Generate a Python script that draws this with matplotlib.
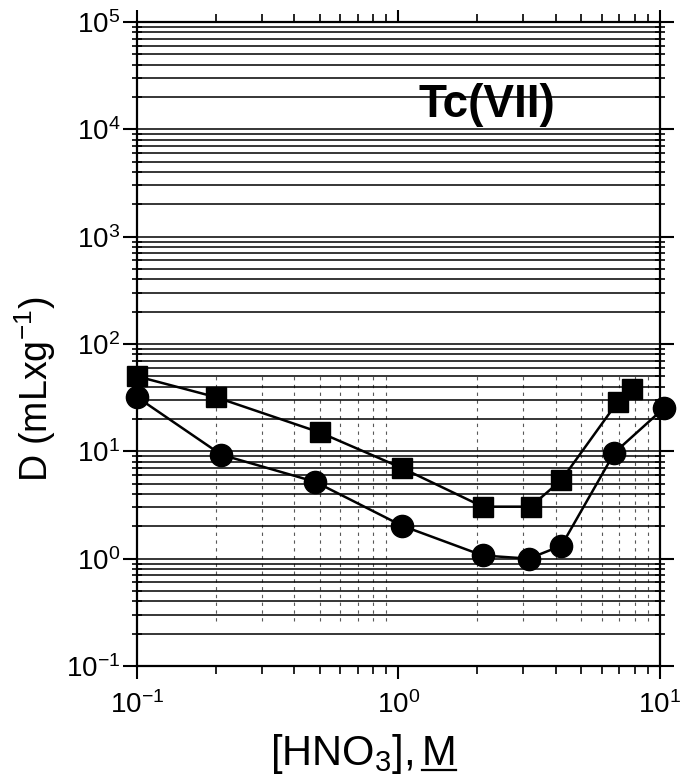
import numpy as np
import matplotlib
matplotlib.use("Agg")
import matplotlib.pyplot as plt
from matplotlib.ticker import LogLocator, NullFormatter
from matplotlib.lines import Line2D

plt.rcParams['font.family'] = ['Liberation Sans', 'DejaVu Sans']
plt.rcParams['mathtext.fontset'] = 'custom'
plt.rcParams['mathtext.rm'] = 'Liberation Sans'
plt.rcParams['mathtext.it'] = 'Liberation Sans:italic'
plt.rcParams['mathtext.bf'] = 'Liberation Sans:bold'
plt.rcParams['mathtext.sf'] = 'Liberation Sans'

# data
sq_x = [0.1, 0.2, 0.5, 1.03, 2.1, 3.2, 4.2, 6.9, 7.8]
sq_y = [50, 32, 15, 7.0, 3.05, 3.05, 5.4, 29, 38]
ci_x = [0.1, 0.21, 0.48, 1.03, 2.1, 3.15, 4.2, 6.7, 10.4]
ci_y = [32, 9.3, 5.2, 2.03, 1.07, 1.0, 1.32, 9.7, 25.5]

fig = plt.figure(figsize=(6.89, 7.81), dpi=100)
ax = fig.add_axes([0.1988, 0.1473, 0.759, 0.8245])
ax.set_xscale('log')
ax.set_yscale('log')
ax.set_xlim(0.1, 10)
ax.set_ylim(0.1, 1e5)

ax.yaxis.set_major_locator(LogLocator(base=10, numticks=10))
ax.yaxis.set_minor_locator(LogLocator(base=10, subs=np.arange(2, 10), numticks=20))
ax.yaxis.set_minor_formatter(NullFormatter())
ax.xaxis.set_minor_locator(LogLocator(base=10, subs=np.arange(2, 10), numticks=20))
ax.xaxis.set_minor_formatter(NullFormatter())
ax.grid(True, axis='y', which='both', color='black', linewidth=1.1, linestyle='-')

for xv in ax.xaxis.get_minorticklocs():
    if 0.1 < xv < 10:
        ax.axvline(xv, ymin=0.07, ymax=0.45, color='0.35', linewidth=0.8,
                   linestyle=(0, (3, 4)), zorder=1)

ax.plot(sq_x, sq_y, color='black', linewidth=1.8, marker='s', markersize=14,
        clip_on=False, zorder=5)
ax.plot(ci_x, ci_y, color='black', linewidth=1.8, marker='o', markersize=16,
        clip_on=False, zorder=5)

for s in ax.spines.values():
    s.set_linewidth(1.6)

ax.tick_params(axis='both', which='major', labelsize=20, width=1.5)
ax.tick_params(axis='y', which='major', direction='out', length=10, pad=2)
ax.tick_params(axis='y', which='minor', direction='inout', length=7, width=1.2)
ax.tick_params(axis='x', which='major', direction='out', length=9, pad=9)
ax.tick_params(axis='x', which='minor', direction='out', length=6, width=1.2)
ax.tick_params(which='both', top=True, right=True, labeltop=False, labelright=False)

ax.set_ylabel(r'D (mLxg$^{-1}$)', fontsize=27)
ax.yaxis.set_label_coords(-0.151, 0.429)
ax.xaxis.label.set_visible(False)
ax.xaxis.offsetText.set_visible(False)
ax.yaxis.offsetText.set_visible(False)

# x label with underlined M
W = fig.bbox.width
H = fig.bbox.height
xc, yb = 363.0 / W, 16.0 / H
gap = 9.0
t1 = fig.text(xc, yb, r'[HNO$_3$],', fontsize=30, ha='left', va='baseline')
t2 = fig.text(xc, yb, 'M', fontsize=30, ha='left', va='baseline')
fig.canvas.draw()
r = fig.canvas.get_renderer()
b1 = t1.get_window_extent(r)
b2 = t2.get_window_extent(r)
total = b1.width + gap + b2.width
x0 = xc * W - total / 2.0
t1.set_x(x0 / W)
t2.set_x((x0 + b1.width + gap) / W)
fig.canvas.draw()
b2 = t2.get_window_extent(r)
yline = (yb * H - 5) / H
fig.add_artist(Line2D([b2.x0 / W, b2.x1 / W], [yline, yline], color='black',
                      linewidth=1.6, transform=fig.transFigure))

ax.text(0.669, 0.871, 'Tc(VII)', transform=ax.transAxes, fontsize=33,
        fontweight='bold', ha='center', va='center', zorder=6)

fig.savefig('out.png', dpi=100)
